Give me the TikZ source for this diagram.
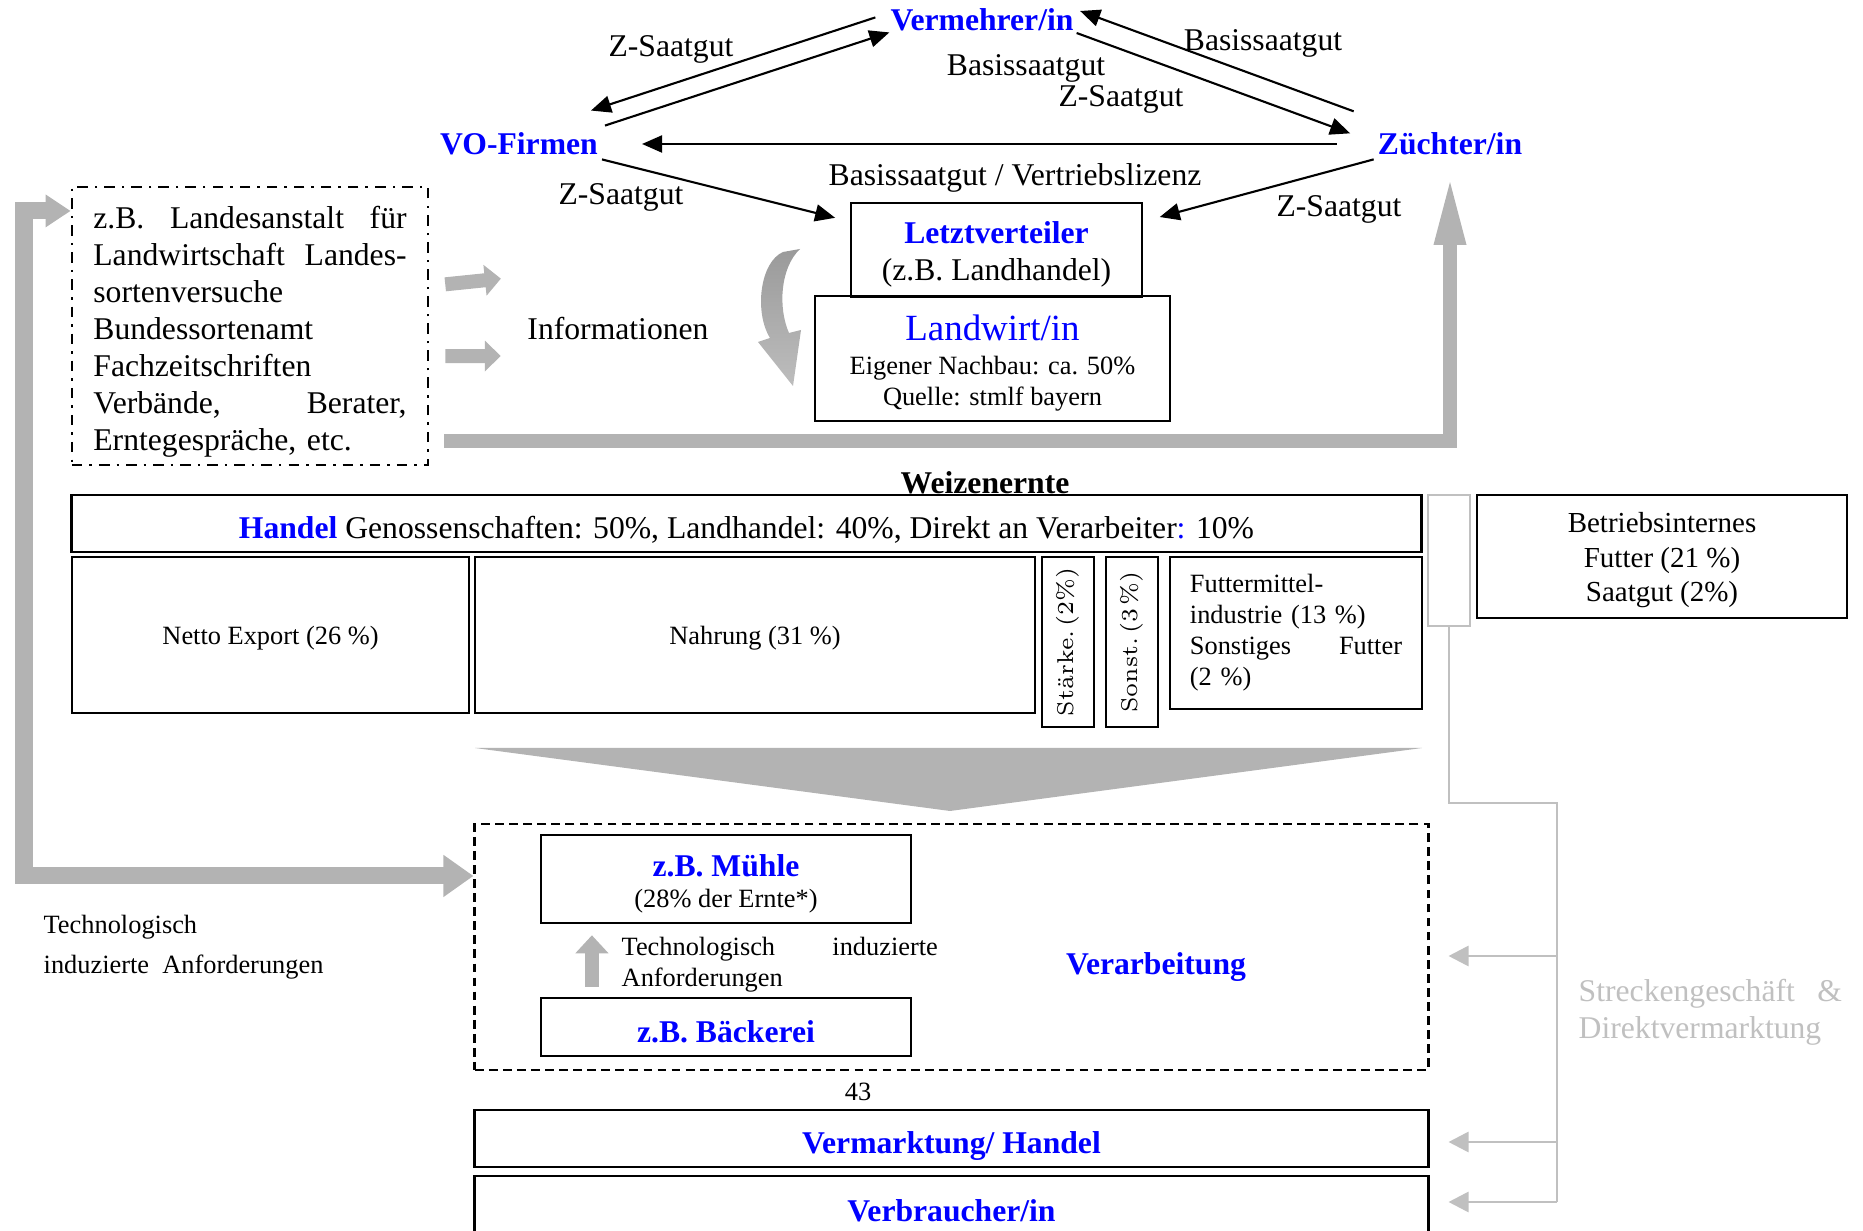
\documentclass[tikz,border=0pt]{standalone}
\usepackage{fontspec}
\setmainfont{Liberation Serif}
\newfontfamily\lmroman{Latin Modern Roman}
\usepackage{xcolor}
\usepackage{graphicx}
\usepackage{tikz}
\usetikzlibrary{arrows.meta}
\definecolor{firmBlue}{HTML}{0000FF}
\definecolor{arrowGray}{HTML}{B3B3B3}
\definecolor{curveDark}{HTML}{9A9A9A}
\definecolor{curveLight}{HTML}{BDBDBD}
\definecolor{streckGray}{HTML}{C0C0C0}
\newcommand{\mainsize}{\fontsize{9}{10.5}\selectfont}
\newcommand{\smallsize}{\fontsize{7.5}{8.8}\selectfont}
\newcommand{\dropline}[1]{\rule{0pt}{#1}}
\tikzstyle{actor} = [text=firmBlue, font=\mainsize\bfseries, inner sep=1pt]
\tikzstyle{flowText} = [font=\mainsize, inner sep=0pt]
\tikzstyle{block} = [rectangle, draw, line width=0.7pt, align=center, inner sep=0pt]
\tikzstyle{line} = [line width=0.6pt, ->, >= {Triangle[length=0.2cm, width=0.17cm]}]
\tikzstyle{fatArrow} = [draw=arrowGray, line width=0.14cm]
\tikzstyle{infoArrow} = [draw=arrowGray, line width=0.14cm, -{Triangle[length=0.16cm, width=0.3cm]}]
\tikzstyle{streck} = [draw=streckGray, line width=0.8pt]
\tikzstyle{streckArrow} = [streck, -{Triangle[length=0.2cm, width=0.2cm]}]

\begin{document}
\begin{tikzpicture}[x=0.01cm, y=-0.01cm]
        \useasboundingbox (0,0) rectangle (1863,1231);
        \clip (0,0) rectangle (1863,1231);
        % Saatgut
        \node(Verm) [actor] at (982,20) {Vermehrer/in};
        \node(VO) [actor] at (519,144) {VO-Firmen};
        \node(Zuechter) [actor] at (1450,144) {Züchter/in};
        \node(Landwirt) [block, minimum width=3.55cm, minimum height=1.25cm, font=\smallsize] at (992.5,358.5) {{\fontsize{10.5}{12}\selectfont\color{firmBlue}\dropline{10.1pt}Landwirt/in}\\[0.9pt]Eigener Nachbau: ca. 50\%\\Quelle: stmlf bayern};
        \node(Letzt) [block, minimum width=2.91cm, minimum height=0.94cm, font=\mainsize] at (996.5,250) {\dropline{9pt}\textcolor{firmBlue}{\bfseries Letztverteiler}\\(z.B. Landhandel)};
        \node(zsVO) [flowText] at (671,49) {Z-Saatgut};
        \node(bsZ) [flowText] at (1263,43) {Basissaatgut};
        \node(bsV) [flowText] at (1026,68) {Basissaatgut};
        \node(zsV) [flowText] at (1121,99) {Z-Saatgut};
        \node(bsVL) [flowText] at (1015,178) {Basissaatgut / Vertriebslizenz};
        \node(zsL) [flowText] at (621,197) {Z-Saatgut};
        \node(zsZ) [flowText] at (1339,209) {Z-Saatgut};
        \begin{scope}[transform canvas = {xshift = -.11cm, yshift = .18cm}]
            \draw[line] (Verm.south west) -- (VO.north east);
        \end{scope}
        \begin{scope}[transform canvas = {xshift = .03cm, yshift = .03cm}]
            \draw[line] (VO.north east) -- (Verm.south west);
        \end{scope}
        \begin{scope}[transform canvas = {xshift = -.01cm, yshift = -.13cm}]
            \draw[line, shorten >= .24cm] (Verm.east) -- (Zuechter.north west);
        \end{scope}
        \begin{scope}[transform canvas = {xshift = .025cm, yshift = .09cm}]
            \draw[line, shorten <= .24cm] (Zuechter.north west) -- (Verm.east);
        \end{scope}
        \draw[line, shorten <= .37cm, shorten >= .40cm] (Zuechter.west) -- (VO.east);
        \draw[line, shorten >= .15cm] (VO.south east) -- (Letzt.169);
        \draw[line, shorten >= .17cm] (Zuechter.south west) -- (Letzt.11);
        % Informationen
        \node(info) [block, dash dot, minimum width=3.56cm, minimum height=2.78cm, text width=3.13cm, align=left, font=\mainsize] at (250,326) {\dropline{9.6pt}z.B.\hfill Landesanstalt\hfill für\\Landwirtschaft\hfill Landes-\\sortenversuche\\Bundessortenamt\\Fachzeitschriften\\Verbände,\hfill Berater,\\Erntegespräche, etc.};
        \node(Inform) [flowText] at (618,329) {Informationen};
        \draw[infoArrow, shorten <= .16cm, shorten >= .26cm] ([yshift=.40cm]info.east) -- ([yshift=.53cm]Inform.west);
        \draw[infoArrow, shorten <= .16cm, shorten >= .26cm] ([yshift=-.30cm]info.east) -- ([yshift=-.27cm]Inform.west);
        \shade[top color=curveDark, bottom color=curveLight] (783,252) .. controls (760,262) and (754,312) .. (770,338) -- (758,342) -- (793,386) -- (801,330) -- (789,333) .. controls (778,308) and (780,268) .. (800,249) -- cycle;
        \draw[fatArrow, shorten <= .15cm, shorten >= .135cm, -{Triangle[length=.72cm, width=.28cm]}] ([yshift=-1.15cm]info.east) -| (Zuechter.south);
        % Weizenernte
        \node(Ernte) [flowText, font=\mainsize\bfseries] at (985,483) {Weizenernte};
        \node(Handel) [block, minimum width=13.49cm, minimum height=.57cm, font=\mainsize] at (746.5,523.5) {\dropline{10.2pt}\textcolor{firmBlue}{\bfseries Handel} Genossenschaften: 50\%, Landhandel: 40\%, Direkt an Verarbeiter\textcolor{firmBlue}{:} 10\%};
        \node(Export) [block, minimum width=3.97cm, minimum height=1.56cm, font=\smallsize] at (270.5,635) {\dropline{6.8pt}Netto Export (26 \%)};
        \node(Nahrung) [block, minimum width=5.60cm, minimum height=1.56cm, font=\smallsize] at (755,635) {\dropline{6.8pt}Nahrung (31 \%)};
        \node(Staerke) [block, minimum width=.52cm, minimum height=1.70cm] at (1068,642) {\rotatebox{90}{\lmroman\fontsize{6.5}{8}\selectfont\frenchspacing Stärke.\,(2\%)}};
        \node(Sonst) [block, minimum width=.52cm, minimum height=1.70cm] at (1132,642) {\rotatebox{90}{\lmroman\fontsize{6.5}{8}\selectfont\frenchspacing Sonst.\,(3\,\%)}};
        \node(Futter) [block, minimum width=2.52cm, minimum height=1.52cm, text width=2.12cm, align=left, font=\smallsize] at (1296,633) {Futtermittel-\\industrie (13 \%)\\Sonstiges\hfill Futter\\(2 \%)};
        \node(gap) [rectangle, draw=streckGray, line width=.8pt, minimum width=.42cm, minimum height=1.31cm, inner sep=0pt] at (1449,560.5) {};
        \node(Betrieb) [block, minimum width=3.70cm, minimum height=1.23cm, font=\fontsize{8.25}{9.7}\selectfont] at (1662,556.5) {\dropline{7.8pt}Betriebsinternes\\Futter (21 \%)\\Saatgut (2\%)};
        \fill[arrowGray] (475,748) -- (1422,748) -- (950,811) -- cycle;
        % Verarbeitung
        \node(Verarb) [block, dash pattern=on 2.5pt off 1.5pt, minimum width=9.53cm, minimum height=2.46cm] at (951.5,947) {};
        \node(VerarbText) [actor] at (1156,967) {Verarbeitung};
        \node(Muehle) [block, minimum width=3.70cm, minimum height=.88cm, font=\smallsize] at (726,879) {{\mainsize\bfseries\color{firmBlue}\dropline{9.1pt}z.B. Mühle}\\(28\% der Ernte*)};
        \node(Baeck) [block, minimum width=3.70cm, minimum height=.58cm, font=\mainsize\bfseries, text=firmBlue] at (726,1027) {\dropline{9.1pt}z.B. Bäckerei};
        \draw[infoArrow, -{Triangle[length=.18cm, width=.32cm]}, shorten <= .10cm, shorten >= .11cm] ([xshift=-1.34cm]Baeck.north) -- ([xshift=-1.34cm]Muehle.south);
        \node(techIn) [flowText, font=\smallsize, text width=3.16cm, align=left, anchor=west] at (621,965) {Technologisch\hfill induzierte\\Anforderungen};
        \node(techOut) [flowText, font=\fontsize{7.5}{11.4}\selectfont, align=left, anchor=west] at (43,947) {Technologisch\\induzierte\ \ Anforderungen};
        \coordinate (feedback) at (24,540);
        \draw[fatArrow, line width=.17cm, {Triangle[length=.3cm, width=.4cm]}-{Triangle[length=.25cm, width=.31cm]}] ([yshift=.71cm]Verarb.west) -| (feedback) |- ([yshift=1.15cm]info.west);
        \node(page) [flowText, font=\smallsize] at (858,1092) {43};
        \node(Vermarkt) [block, minimum width=9.53cm, minimum height=.57cm, font=\mainsize\bfseries, text=firmBlue] at (951.5,1138.5) {\dropline{10.8pt}Vermarktung/ Handel};
        \node(Verbr) [block, minimum width=9.53cm, minimum height=.69cm, font=\mainsize\bfseries, text=firmBlue] at (951.5,1210.5) {Verbraucher/in};
        % Streckengeschaeft
        \coordinate (streckTop) at (1557,803);
        \coordinate (streckVer) at (1557,956);
        \coordinate (streckMar) at (1557,1142);
        \coordinate (streckBot) at (1557,1202);
        \draw[streck] (gap.south) |- (streckTop) -- (streckBot);
        \draw[streckArrow, shorten >= .19cm] (streckVer) -- (streckVer -| Verarb.east);
        \draw[streckArrow, shorten >= .19cm] (streckMar) -- (streckMar -| Vermarkt.east);
        \draw[streckArrow, shorten >= .19cm] (streckBot) -- (streckBot -| Verbr.east);
        \node(streckText) [flowText, text=streckGray, text width=2.63cm, align=left, anchor=west] at (1578,1012) {Streckengeschäft\hfill\&\\Direktvermarktung};
    \end{tikzpicture}
\end{document}
